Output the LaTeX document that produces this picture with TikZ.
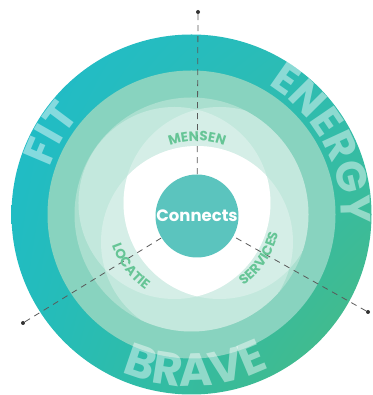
\documentclass[tikz,border=0pt]{standalone}
\usepackage{fontspec}
\newfontfamily\pop{Poppins}
\usetikzlibrary{calc,decorations.text,shadings}
\definecolor{ringmid}{HTML}{88D3BF}
\definecolor{ringlight}{HTML}{AADFCF}
\definecolor{hubfill}{HTML}{5BC4BE}
\definecolor{labelgreen}{HTML}{66C596}
\definecolor{axisgray}{HTML}{5A5A5A}
\definecolor{gUL}{HTML}{1FBBCB}
\definecolor{gUR}{HTML}{2DBDB2}
\definecolor{gLL}{HTML}{22BDBB}
\definecolor{gLR}{HTML}{4ABA80}
\newcommand{\bigfmt}{\pop\bfseries\fontsize{42}{42}\selectfont\color{white}}
\newcommand{\bravefmt}{\pop\bfseries\fontsize{46}{46}\selectfont\color{white}}
\newcommand{\smallfmt}{\pop\bfseries\fontsize{13.5}{13.5}\selectfont\color{labelgreen}}
\begin{document}
\begin{tikzpicture}[x=1pt,y=1pt,
  dotmark/.style={circle,fill=black!80,inner sep=0pt,minimum size=4pt},
  axisline/.style={draw=axisgray,line width=0.8pt,dash pattern=on 6pt off 5pt},
  hub/.style={circle,fill=hubfill,inner sep=0pt,minimum size=83pt,text=white,font=\pop\bfseries\fontsize{16.5}{16.5}\selectfont},
  lobe/.style={fill=white,fill opacity=0.3}]
\useasboundingbox (0,0) rectangle (372,395);
\coordinate (R) at (191.5,180.5);
\coordinate (C) at (197,179);
% rings
\shade[upper left=gUL,upper right=gUR,lower left=gLL,lower right=gLR] (R) circle[radius=180];
\fill[ringmid] (R) circle[radius=144];
\fill[ringlight] (R) circle[radius=117];
% overlapping circles
\begin{scope}
  \clip (R) circle[radius=117];
  \foreach \a in {30,150,270}
    \fill[lobe] ($(C)+(\a:26)$) circle[radius=96];
\end{scope}
\begin{scope}
  \clip ($(C)+(30:26)$) circle[radius=96];
  \clip ($(C)+(150:26)$) circle[radius=96];
  \fill[white] ($(C)+(270:26)$) circle[radius=96];
\end{scope}
% big words
\begin{scope}[opacity=0.45]
  \path[decorate,decoration={text along path,text={|\bigfmt|FIT},text align=center}]
    ($(R)+(180:149)$) arc[start angle=180,end angle=120,radius=149];
  \path[decorate,decoration={text along path,text={|\bigfmt|ENERGY},text align=center}]
    ($(R)+(93:150)$) arc[start angle=93,end angle=-37,radius=150];
  \path[decorate,decoration={text along path,text={|\bravefmt|BRAVE},text align=center}]
    ($(R)+(221.5:172)$) arc[start angle=221.5,end angle=321.5,radius=172];
\end{scope}
% axes
\node[hub] (hub) at (C) {Connects};
\node[dotmark] (dtop) at (198,383) {};
\node[dotmark] (dleft) at (23,72) {};
\node[dotmark] (dright) at (368,83) {};
\draw[axisline] (dtop) -- (hub);
\draw[axisline] (dleft) -- (hub);
\draw[axisline] (dright) -- (hub);
% inner labels
\path[decorate,decoration={text along path,text={|\smallfmt|MENSEN},text align=center}]
  ($(C)+(135:75)$) arc[start angle=135,end angle=45,radius=75];
\path[decorate,decoration={text along path,text={|\smallfmt|LOCATIE},text align=center}]
  ($(C)+(172:90)$) arc[start angle=172,end angle=262,radius=90];
\path[decorate,decoration={text along path,text={|\smallfmt|SERVICES},text align=center}]
  ($(C)+(281:83)$) arc[start angle=281,end angle=371,radius=83];
\end{tikzpicture}
\end{document}
